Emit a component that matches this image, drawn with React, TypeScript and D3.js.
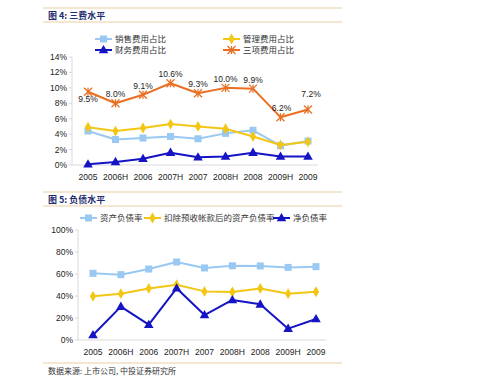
import React from "react";
import * as d3 from "d3";

const categories = ["2005", "2006H", "2006", "2007H", "2007", "2008H", "2008", "2009H", "2009"];

// Chart 1 (三费水平), values in %
const salesRatio = [4.4, 3.3, 3.5, 3.7, 3.4, 4.1, 4.5, 2.5, 3.1];
const adminRatio = [4.9, 4.4, 4.8, 5.3, 5.0, 4.7, 3.7, 2.6, 3.0];
const financeRatio = [0.1, 0.4, 0.8, 1.6, 1.0, 1.1, 1.6, 1.1, 1.1];
const totalRatio = [9.5, 8.0, 9.1, 10.6, 9.3, 10.0, 9.9, 6.2, 7.2];
const ticks1 = [0, 2, 4, 6, 8, 10, 12, 14];

// Chart 2 (负债水平), values in %
const debtRatio = [60.6, 59.4, 64.5, 70.9, 65.5, 67.5, 67.3, 66.0, 66.7];
const adjDebtRatio = [39.7, 42.1, 46.9, 50.3, 44.2, 43.6, 46.9, 42.1, 43.9];
const netDebtRatio = [4.5, 30.3, 13.9, 47.0, 22.7, 36.4, 32.4, 10.3, 19.1];
const ticks2 = [0, 20, 40, 60, 80, 100];

const C_LBLUE = "#99c9f2";
const C_YELLOW = "#f3c614";
const C_DBLUE = "#1414c4";
const C_ORANGE = "#ea6f22";
const C_RULE = "#e8cfa6";
const C_TITLE = "#1f2d6e";
const AX_FONT = "'Liberation Sans', Arial, sans-serif";
const CJK_FONT = "'Noto Sans CJK SC', sans-serif";

type Kind = "square" | "diamond" | "triangle" | "star";

function Marker({ kind, x, y, color }: { kind: Kind; x: number; y: number; color: string }) {
  if (kind === "square") return <rect x={x - 3.5} y={y - 3.5} width={7} height={7} fill={color} />;
  if (kind === "diamond") {
    const p = d3.symbol(d3.symbolDiamond, 34)();
    return <path d={p!} transform={`translate(${x},${y})`} fill={color} />;
  }
  if (kind === "triangle") {
    const p = d3.symbol(d3.symbolTriangle, 40)();
    return <path d={p!} transform={`translate(${x},${y + 0.5})`} fill={color} />;
  }
  const r = 4;
  return (
    <g stroke={color} strokeWidth={1.3}>
      <line x1={x - r} y1={y - r} x2={x + r} y2={y + r} />
      <line x1={x - r} y1={y + r} x2={x + r} y2={y - r} />
      <line x1={x} y1={y - r} x2={x} y2={y + r} />
    </g>
  );
}

function Series({ values, x, y, color, kind, width }: any) {
  const line = d3
    .line<number>()
    .x((_, i) => x(categories[i])!)
    .y((d) => y(d));
  return (
    <g>
      <path d={line(values)!} fill="none" stroke={color} strokeWidth={width} strokeLinejoin="round" />
      {values.map((v: number, i: number) => (
        <Marker key={i} kind={kind} x={x(categories[i])!} y={y(v)} color={color} />
      ))}
    </g>
  );
}

function LegendItem({ x, y, color, kind, label }: any) {
  return (
    <g>
      <line x1={x} y1={y} x2={x + 17} y2={y} stroke={color} strokeWidth={2} />
      <Marker kind={kind} x={x + 8.5} y={y} color={color} />
      <text x={x + 20} y={y + 3.2} fontSize={8.5} fontFamily={CJK_FONT} fill="#333">
        {label}
      </text>
    </g>
  );
}

function Header({ y, label }: { y: number; label: string }) {
  return (
    <g>
      <line x1={43} x2={342} y1={y} y2={y} stroke={C_RULE} strokeWidth={1.2} />
      <line x1={43} x2={342} y1={y + 14} y2={y + 14} stroke={C_RULE} strokeWidth={1.2} />
      <text x={48} y={y + 10.5} fontSize={9} fontWeight="bold" fontFamily={CJK_FONT} fill={C_TITLE}>
        {label}
      </text>
    </g>
  );
}

export default function App() {
  // chart 1 scales
  const x1 = d3.scalePoint<string>().domain(categories).range([88, 308]);
  const y1 = d3.scaleLinear().domain([0, 14]).range([165, 57]);
  // chart 2 scales
  const x2 = d3.scalePoint<string>().domain(categories).range([93, 316]);
  const y2 = d3.scaleLinear().domain([0, 100]).range([340, 230]);

  const labelOffsets = [7, -6, -6, -6, -6, -6, -6, -6, -12];

  return (
    <svg width={499} height={383} style={{ position: "absolute", left: 0, top: 0, background: "#fff" }}>
      <rect width={499} height={383} fill="#fff" />
      <Header y={8} label="图 4: 三费水平" />

      {/* Legend 1 */}
      <LegendItem x={95} y={39} color={C_LBLUE} kind="square" label="销售费用占比" />
      <LegendItem x={223} y={39} color={C_YELLOW} kind="diamond" label="管理费用占比" />
      <LegendItem x={95} y={50} color={C_DBLUE} kind="triangle" label="财务费用占比" />
      <LegendItem x={223} y={50} color={C_ORANGE} kind="star" label="三项费用占比" />

      {/* Axes 1 */}
      <line x1={72} x2={72} y1={57} y2={165} stroke="#d9d9d9" />
      <line x1={72} x2={318} y1={165} y2={165} stroke="#d9d9d9" />
      {ticks1.map((t) => (
        <g key={t}>
          <line x1={69} x2={72} y1={y1(t)} y2={y1(t)} stroke="#d9d9d9" />
          <text x={67} y={y1(t) + 3} fontSize={8.5} textAnchor="end" fontFamily={AX_FONT} fill="#222">
            {t}%
          </text>
        </g>
      ))}
      {categories.map((c) => (
        <text key={c} x={x1(c)} y={180} fontSize={8.5} textAnchor="middle" fontFamily={AX_FONT} fill="#222">
          {c}
        </text>
      ))}

      <Series values={salesRatio} x={x1} y={y1} color={C_LBLUE} kind="square" width={2} />
      <Series values={adminRatio} x={x1} y={y1} color={C_YELLOW} kind="diamond" width={2} />
      <Series values={financeRatio} x={x1} y={y1} color={C_DBLUE} kind="triangle" width={2} />
      <Series values={totalRatio} x={x1} y={y1} color={C_ORANGE} kind="star" width={2} />
      {totalRatio.map((v, i) => (
        <text
          key={i}
          x={x1(categories[i])! + (i === 7 ? 1 : i === 8 ? 3 : 0)}
          y={y1(v) + labelOffsets[i] + (labelOffsets[i] > 0 ? 3 : 0)}
          fontSize={8.5}
          textAnchor="middle"
          fontFamily={AX_FONT}
          fill="#222"
        >
          {v.toFixed(1)}%
        </text>
      ))}

      <Header y={192} label="图 5: 负债水平" />

      {/* Legend 2 */}
      <LegendItem x={80} y={218} color={C_LBLUE} kind="square" label="资产负债率" />
      <LegendItem x={144} y={218} color={C_YELLOW} kind="diamond" label="扣除预收帐款后的资产负债率" />
      <LegendItem x={273} y={218} color={C_DBLUE} kind="triangle" label="净负债率" />

      {/* Axes 2 */}
      <line x1={78} x2={78} y1={230} y2={340} stroke="#d9d9d9" />
      <line x1={78} x2={326} y1={340} y2={340} stroke="#d9d9d9" />
      {ticks2.map((t) => (
        <g key={t}>
          <line x1={75} x2={78} y1={y2(t)} y2={y2(t)} stroke="#d9d9d9" />
          <text x={73} y={y2(t) + 3} fontSize={8.5} textAnchor="end" fontFamily={AX_FONT} fill="#222">
            {t}%
          </text>
        </g>
      ))}
      {categories.map((c) => (
        <text key={c} x={x2(c)} y={355} fontSize={8.5} textAnchor="middle" fontFamily={AX_FONT} fill="#222">
          {c}
        </text>
      ))}

      <Series values={debtRatio} x={x2} y={y2} color={C_LBLUE} kind="square" width={2} />
      <Series values={adjDebtRatio} x={x2} y={y2} color={C_YELLOW} kind="diamond" width={2} />
      <Series values={netDebtRatio} x={x2} y={y2} color={C_DBLUE} kind="triangle" width={2} />

      <line x1={43} x2={342} y1={363} y2={363} stroke={C_RULE} strokeWidth={1.2} />
      <text x={48} y={374} fontSize={8} fontFamily={CJK_FONT} fill="#333">
        数据来源: 上市公司, 中投证券研究所
      </text>
    </svg>
  );
}
